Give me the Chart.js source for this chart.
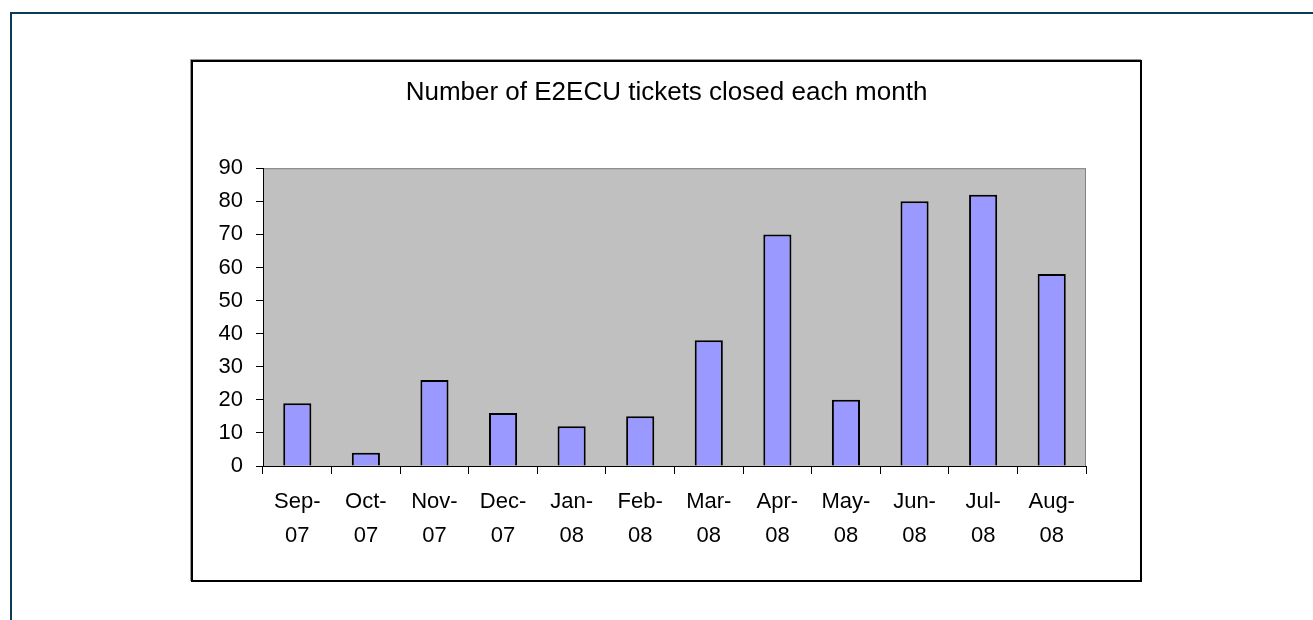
<!DOCTYPE html>
<html>
<head>
<meta charset="utf-8">
<title>E2ECU tickets closed</title>
<script src="https://cdn.jsdelivr.net/npm/chart.js@4/dist/chart.umd.min.js"></script>
<style>
    body { margin: 0; background: #fff; width: 1313px; height: 620px; overflow: hidden; position: relative; }
    .frame { position: absolute; left: 10px; top: 12px; width: 1400px; height: 700px;
             border-top: 2px solid #0b3c55; border-left: 2px solid #0b3c55; }
    .box { position: absolute; left: 191px; top: 60px; width: 947px; height: 518px;
           border: 2px solid #000; box-shadow: -1px -1px 0 #999; background: #fff; }
</style>
</head>
<body>
<div class="frame"></div>
<div class="box"><canvas id="tickets-chart"></canvas></div>
<script>
const months = [["Sep-", "07"], ["Oct-", "07"], ["Nov-", "07"], ["Dec-", "07"], ["Jan-", "08"], ["Feb-", "08"],
                ["Mar-", "08"], ["Apr-", "08"], ["May-", "08"], ["Jun-", "08"], ["Jul-", "08"], ["Aug-", "08"]];
const closedTickets = [19, 4, 26, 16, 12, 15, 38, 70, 20, 80, 82, 58];
const chartTitle = "Number of E2ECU tickets closed each month";

const fontFamily = "'Liberation Sans', Arial, sans-serif";

// gray plot area behind the bars
const plotBackground = {
    id: "plotBackground",
    beforeDraw(chart) {
        const { ctx, chartArea: a } = chart;
        ctx.save();
        ctx.fillStyle = "#c0c0c0";
        ctx.fillRect(a.left, a.top, a.right - a.left, a.bottom - a.top);
        ctx.strokeStyle = "#808080";
        ctx.lineWidth = 1;
        ctx.strokeRect(a.left + 0.5, a.top + 0.5, a.right - a.left - 1, a.bottom - a.top);
        ctx.restore();
    }
};

const ctx = document.getElementById("tickets-chart").getContext("2d");
new Chart(ctx, {
    type: "bar",
    data: {
        labels: months,
        datasets: [{
            data: closedTickets,
            backgroundColor: "#9999ff",
            borderColor: "#000",
            borderWidth: 2,
            barPercentage: 0.41,
            categoryPercentage: 1
        }]
    },
    options: {
        responsive: true,
        maintainAspectRatio: false,
        animation: false,
        layout: { padding: 0 },
        plugins: {
            legend: { display: false },
            tooltip: { enabled: false },
            title: {
                display: true,
                text: chartTitle,
                color: "#000",
                font: { family: fontFamily, size: 26, weight: "normal", lineHeight: 1.2 },
                padding: { top: 15, bottom: 60 }
            }
        },
        scales: {
            x: {
                grid: { display: true, drawOnChartArea: false, drawTicks: true, tickLength: 8, color: "#000", offset: true },
                border: { display: true, color: "#000", width: 1 },
                ticks: {
                    color: "#000",
                    maxRotation: 0,
                    autoSkip: false,
                    padding: 11,
                    font: { family: fontFamily, size: 22, lineHeight: 1.55 }
                },
                afterFit(scale) { scale.height = 114; }
            },
            y: {
                min: 0,
                max: 90,
                grid: { display: true, drawOnChartArea: false, drawTicks: true, tickLength: 7, color: "#000" },
                border: { display: true, color: "#000", width: 1 },
                ticks: {
                    stepSize: 10,
                    color: "#000",
                    padding: 13,
                    font: { family: fontFamily, size: 22 }
                },
                afterFit(scale) { scale.width = 70; }
            },
            // empty right-hand spacer so the title stays centred on the box
            spacer: {
                type: "linear",
                position: "right",
                grid: { display: false },
                border: { display: false },
                ticks: { display: false },
                afterFit(scale) { scale.width = 54; }
            }
        }
    },
    plugins: [plotBackground]
});
</script>
</body>
</html>
